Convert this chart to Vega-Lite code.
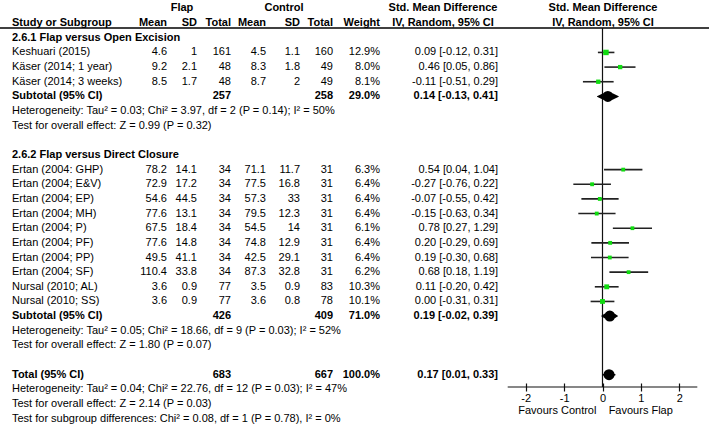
{
  "$schema": "https://vega.github.io/schema/vega-lite/v6.json",
  "width": 709,
  "height": 387,
  "autosize": {"type": "none"},
  "padding": {"left": 0, "top": 0, "right": 0, "bottom": 39},
  "background": "white",
  "config": {"view": {"stroke": null}, "font": "Liberation Sans"},
  "datasets": {
    "rows": [
      {"row": 0, "kind": "head", "fgrp": "Flap", "cgrp": "Control", "cihead": "Std. Mean Difference", "plothead": "Std. Mean Difference"},
      {"row": 1, "kind": "head", "label": "Study or Subgroup", "fm": "Mean", "fsd": "SD", "ft": "Total", "cm": "Mean", "csd": "SD", "ct": "Total", "w": "Weight", "cihead": "IV, Random, 95% CI", "plothead": "IV, Random, 95% CI"},
      {"row": 2, "kind": "group", "label": "2.6.1 Flap versus Open Excision"},
      {"row": 3, "kind": "study", "label": "Keshuari (2015)", "fm": "4.6", "fsd": "1", "ft": "161", "cm": "4.5", "csd": "1.1", "ct": "160", "w": "12.9%", "ci": "0.09 [-0.12, 0.31]", "est": 0.09, "lo": -0.12, "hi": 0.31, "wt": 12.9},
      {"row": 4, "kind": "study", "label": "Käser (2014; 1 year)", "fm": "9.2", "fsd": "2.1", "ft": "48", "cm": "8.3", "csd": "1.8", "ct": "49", "w": "8.0%", "ci": "0.46 [0.05, 0.86]", "est": 0.46, "lo": 0.05, "hi": 0.86, "wt": 8.0},
      {"row": 5, "kind": "study", "label": "Käser (2014; 3 weeks)", "fm": "8.5", "fsd": "1.7", "ft": "48", "cm": "8.7", "csd": "2", "ct": "49", "w": "8.1%", "ci": "-0.11 [-0.51, 0.29]", "est": -0.11, "lo": -0.51, "hi": 0.29, "wt": 8.1},
      {"row": 6, "kind": "sub", "label": "Subtotal (95% CI)", "ft": "257", "ct": "258", "w": "29.0%", "ci": "0.14 [-0.13, 0.41]", "est": 0.14, "lo": -0.13, "hi": 0.41},
      {"row": 7, "kind": "note", "label": "Heterogeneity: Tau² = 0.03; Chi² = 3.97, df = 2 (P = 0.14); I² = 50%"},
      {"row": 8, "kind": "note", "label": "Test for overall effect: Z = 0.99 (P = 0.32)"},
      {"row": 10, "kind": "group", "label": "2.6.2 Flap versus Direct Closure"},
      {"row": 11, "kind": "study", "label": "Ertan (2004: GHP)", "fm": "78.2", "fsd": "14.1", "ft": "34", "cm": "71.1", "csd": "11.7", "ct": "31", "w": "6.3%", "ci": "0.54 [0.04, 1.04]", "est": 0.54, "lo": 0.04, "hi": 1.04, "wt": 6.3},
      {"row": 12, "kind": "study", "label": "Ertan (2004; E&V)", "fm": "72.9", "fsd": "17.2", "ft": "34", "cm": "77.5", "csd": "16.8", "ct": "31", "w": "6.4%", "ci": "-0.27 [-0.76, 0.22]", "est": -0.27, "lo": -0.76, "hi": 0.22, "wt": 6.4},
      {"row": 13, "kind": "study", "label": "Ertan (2004; EP)", "fm": "54.6", "fsd": "44.5", "ft": "34", "cm": "57.3", "csd": "33", "ct": "31", "w": "6.4%", "ci": "-0.07 [-0.55, 0.42]", "est": -0.07, "lo": -0.55, "hi": 0.42, "wt": 6.4},
      {"row": 14, "kind": "study", "label": "Ertan (2004; MH)", "fm": "77.6", "fsd": "13.1", "ft": "34", "cm": "79.5", "csd": "12.3", "ct": "31", "w": "6.4%", "ci": "-0.15 [-0.63, 0.34]", "est": -0.15, "lo": -0.63, "hi": 0.34, "wt": 6.4},
      {"row": 15, "kind": "study", "label": "Ertan (2004; P)", "fm": "67.5", "fsd": "18.4", "ft": "34", "cm": "54.5", "csd": "14", "ct": "31", "w": "6.1%", "ci": "0.78 [0.27, 1.29]", "est": 0.78, "lo": 0.27, "hi": 1.29, "wt": 6.1},
      {"row": 16, "kind": "study", "label": "Ertan (2004; PF)", "fm": "77.6", "fsd": "14.8", "ft": "34", "cm": "74.8", "csd": "12.9", "ct": "31", "w": "6.4%", "ci": "0.20 [-0.29, 0.69]", "est": 0.20, "lo": -0.29, "hi": 0.69, "wt": 6.4},
      {"row": 17, "kind": "study", "label": "Ertan (2004; PP)", "fm": "49.5", "fsd": "41.1", "ft": "34", "cm": "42.5", "csd": "29.1", "ct": "31", "w": "6.4%", "ci": "0.19 [-0.30, 0.68]", "est": 0.19, "lo": -0.30, "hi": 0.68, "wt": 6.4},
      {"row": 18, "kind": "study", "label": "Ertan (2004; SF)", "fm": "110.4", "fsd": "33.8", "ft": "34", "cm": "87.3", "csd": "32.8", "ct": "31", "w": "6.2%", "ci": "0.68 [0.18, 1.19]", "est": 0.68, "lo": 0.18, "hi": 1.19, "wt": 6.2},
      {"row": 19, "kind": "study", "label": "Nursal (2010; AL)", "fm": "3.6", "fsd": "0.9", "ft": "77", "cm": "3.5", "csd": "0.9", "ct": "83", "w": "10.3%", "ci": "0.11 [-0.20, 0.42]", "est": 0.11, "lo": -0.20, "hi": 0.42, "wt": 10.3},
      {"row": 20, "kind": "study", "label": "Nursal (2010; SS)", "fm": "3.6", "fsd": "0.9", "ft": "77", "cm": "3.6", "csd": "0.8", "ct": "78", "w": "10.1%", "ci": "0.00 [-0.31, 0.31]", "est": 0.00, "lo": -0.31, "hi": 0.31, "wt": 10.1},
      {"row": 21, "kind": "sub", "label": "Subtotal (95% CI)", "ft": "426", "ct": "409", "w": "71.0%", "ci": "0.19 [-0.02, 0.39]", "est": 0.19, "lo": -0.02, "hi": 0.39},
      {"row": 22, "kind": "note", "label": "Heterogeneity: Tau² = 0.05; Chi² = 18.66, df = 9 (P = 0.03); I² = 52%"},
      {"row": 23, "kind": "note", "label": "Test for overall effect: Z = 1.80 (P = 0.07)"},
      {"row": 25, "kind": "total", "label": "Total (95% CI)", "ft": "683", "ct": "667", "w": "100.0%", "ci": "0.17 [0.01, 0.33]", "est": 0.17, "lo": 0.01, "hi": 0.33},
      {"row": 26, "kind": "note", "label": "Heterogeneity: Tau² = 0.04; Chi² = 22.76, df = 12 (P = 0.03); I² = 47%"},
      {"row": 27, "kind": "note", "label": "Test for overall effect: Z = 2.14 (P = 0.03)"},
      {"row": 28, "kind": "note", "label": "Test for subgroup differences: Chi² = 0.08, df = 1 (P = 0.78), I² = 0%"}
    ]
  },
  "data": {"name": "rows"},
  "resolve": {"scale": {"x": "independent"}, "axis": {"x": "independent"}},
  "layer": [
    {
      "layer": [
        {"transform": [{"filter": "datum.label != null"}], "mark": {"type": "text", "align": "left", "baseline": "middle", "fontSize": 11, "color": "#000", "fontWeight": {"expr": "datum.kind == 'study' || datum.kind == 'note' ? 'normal' : 'bold'"}},
         "encoding": {"x": {"datum": 0, "type": "quantitative", "scale": {"type": "linear", "domain": [0,1,2,3,4,5,6,7,8,9,10,11,12], "range": [12,167,182,197,231,266,284,300,333,380,443,498,603], "zero": false, "nice": false}, "axis": null},
                      "y": {"field": "row", "type": "quantitative", "scale": {"domain": [-0.58, 25.84], "reverse": true, "zero": false, "nice": false}, "axis": null},
                      "text": {"field": "label"}}},
        {"transform": [{"filter": "datum.fm != null"}], "mark": {"type": "text", "align": "right", "baseline": "middle", "fontSize": 11, "color": "#000", "fontWeight": {"expr": "datum.kind == 'study' || datum.kind == 'note' ? 'normal' : 'bold'"}},
         "encoding": {"x": {"datum": 1, "type": "quantitative"}, "y": {"field": "row", "type": "quantitative"}, "text": {"field": "fm"}}},
        {"transform": [{"filter": "datum.fgrp != null"}], "mark": {"type": "text", "align": "center", "baseline": "middle", "fontSize": 11, "color": "#000", "fontWeight": "bold"},
         "encoding": {"x": {"datum": 2, "type": "quantitative"}, "y": {"field": "row", "type": "quantitative"}, "text": {"field": "fgrp"}}},
        {"transform": [{"filter": "datum.fsd != null"}], "mark": {"type": "text", "align": "right", "baseline": "middle", "fontSize": 11, "color": "#000", "fontWeight": {"expr": "datum.kind == 'study' || datum.kind == 'note' ? 'normal' : 'bold'"}},
         "encoding": {"x": {"datum": 3, "type": "quantitative"}, "y": {"field": "row", "type": "quantitative"}, "text": {"field": "fsd"}}},
        {"transform": [{"filter": "datum.ft != null"}], "mark": {"type": "text", "align": "right", "baseline": "middle", "fontSize": 11, "color": "#000", "fontWeight": {"expr": "datum.kind == 'study' || datum.kind == 'note' ? 'normal' : 'bold'"}},
         "encoding": {"x": {"datum": 4, "type": "quantitative"}, "y": {"field": "row", "type": "quantitative"}, "text": {"field": "ft"}}},
        {"transform": [{"filter": "datum.cm != null"}], "mark": {"type": "text", "align": "right", "baseline": "middle", "fontSize": 11, "color": "#000", "fontWeight": {"expr": "datum.kind == 'study' || datum.kind == 'note' ? 'normal' : 'bold'"}},
         "encoding": {"x": {"datum": 5, "type": "quantitative"}, "y": {"field": "row", "type": "quantitative"}, "text": {"field": "cm"}}},
        {"transform": [{"filter": "datum.cgrp != null"}], "mark": {"type": "text", "align": "center", "baseline": "middle", "fontSize": 11, "color": "#000", "fontWeight": "bold"},
         "encoding": {"x": {"datum": 6, "type": "quantitative"}, "y": {"field": "row", "type": "quantitative"}, "text": {"field": "cgrp"}}},
        {"transform": [{"filter": "datum.csd != null"}], "mark": {"type": "text", "align": "right", "baseline": "middle", "fontSize": 11, "color": "#000", "fontWeight": {"expr": "datum.kind == 'study' || datum.kind == 'note' ? 'normal' : 'bold'"}},
         "encoding": {"x": {"datum": 7, "type": "quantitative"}, "y": {"field": "row", "type": "quantitative"}, "text": {"field": "csd"}}},
        {"transform": [{"filter": "datum.ct != null"}], "mark": {"type": "text", "align": "right", "baseline": "middle", "fontSize": 11, "color": "#000", "fontWeight": {"expr": "datum.kind == 'study' || datum.kind == 'note' ? 'normal' : 'bold'"}},
         "encoding": {"x": {"datum": 8, "type": "quantitative"}, "y": {"field": "row", "type": "quantitative"}, "text": {"field": "ct"}}},
        {"transform": [{"filter": "datum.w != null"}], "mark": {"type": "text", "align": "right", "baseline": "middle", "fontSize": 11, "color": "#000", "fontWeight": {"expr": "datum.kind == 'study' || datum.kind == 'note' ? 'normal' : 'bold'"}},
         "encoding": {"x": {"datum": 9, "type": "quantitative"}, "y": {"field": "row", "type": "quantitative"}, "text": {"field": "w"}}},
        {"transform": [{"filter": "datum.cihead != null"}], "mark": {"type": "text", "align": "center", "baseline": "middle", "fontSize": 11, "color": "#000", "fontWeight": "bold"},
         "encoding": {"x": {"datum": 10, "type": "quantitative"}, "y": {"field": "row", "type": "quantitative"}, "text": {"field": "cihead"}}},
        {"transform": [{"filter": "datum.ci != null"}], "mark": {"type": "text", "align": "right", "baseline": "middle", "fontSize": 11, "color": "#000", "fontWeight": {"expr": "datum.kind == 'study' || datum.kind == 'note' ? 'normal' : 'bold'"}},
         "encoding": {"x": {"datum": 11, "type": "quantitative"}, "y": {"field": "row", "type": "quantitative"}, "text": {"field": "ci"}}},
        {"transform": [{"filter": "datum.plothead != null"}], "mark": {"type": "text", "align": "center", "baseline": "middle", "fontSize": 11, "color": "#000", "fontWeight": "bold"},
         "encoding": {"x": {"datum": 12, "type": "quantitative"}, "y": {"field": "row", "type": "quantitative"}, "text": {"field": "plothead"}}},
        {"data": {"values": [{}]}, "mark": {"type": "rule", "color": "#000", "strokeWidth": 1.5},
         "encoding": {"y": {"datum": 1.33, "type": "quantitative"}}}
      ]
    },
    {
      "layer": [
        {"data": {"values": [{}]}, "mark": {"type": "rule", "color": "#111", "strokeWidth": 1.2},
         "encoding": {"x": {"datum": 0, "type": "quantitative",
                            "scale": {"domain": [-2.47, 2.47], "range": [507.7, 697.3], "zero": false, "nice": false},
                            "axis": {"orient": "bottom", "values": [-2, -1, 0, 1, 2], "labelExpr": "'' + datum.value", "domain": false, "grid": false, "tickSize": 8, "offset": -4, "tickColor": "#111", "tickWidth": 1.2,
                                     "labelFontSize": 11, "labelColor": "#000", "labelFont": "Liberation Sans", "labelPadding": 1, "labelFlush": false, "labelOverlap": false,
                                     "title": "Favours Control\u00a0\u00a0\u00a0 Favours Flap", "titleFontWeight": "normal", "titleFontSize": 11, "titleColor": "#000", "titleFont": "Liberation Sans", "titlePadding": 1, "titleX": 595}},
                      "y": {"datum": 1.33, "type": "quantitative"}, "y2": {"datum": 25.84}}},
        {"data": {"values": [{}]}, "mark": {"type": "rule", "color": "#111", "strokeWidth": 1.2},
         "encoding": {"x": {"datum": -2.47, "type": "quantitative"}, "x2": {"datum": 2.47}, "y": {"datum": 25.84, "type": "quantitative"}}},
        {"transform": [{"filter": "datum.kind == 'study'"}], "mark": {"type": "rule", "color": "#222", "strokeWidth": 1.6},
         "encoding": {"x": {"field": "lo", "type": "quantitative"}, "x2": {"field": "hi"}, "y": {"field": "row", "type": "quantitative"}}},
        {"transform": [{"filter": "datum.kind == 'study'"}], "mark": {"type": "point", "shape": "square", "filled": true, "color": "#10dc10", "opacity": 1},
         "encoding": {"x": {"field": "est", "type": "quantitative"}, "y": {"field": "row", "type": "quantitative"},
                      "size": {"field": "wt", "type": "quantitative", "scale": {"domain": [0, 13], "range": [0, 30]}, "legend": null}}},
        {"transform": [{"filter": "datum.kind == 'sub' || datum.kind == 'total'"}, {"fold": ["lo", "est", "hi"], "as": ["k", "v"]}],
         "mark": {"type": "trail", "color": "#000"},
         "encoding": {"x": {"field": "v", "type": "quantitative"}, "y": {"field": "row", "type": "quantitative"}, "detail": {"field": "row", "type": "nominal"},
                      "size": {"field": "k", "type": "nominal", "scale": {"type": "ordinal", "domain": ["lo", "est", "hi"], "range": [0, 11, 0]}, "legend": null}}}
      ]
    }
  ]
}
